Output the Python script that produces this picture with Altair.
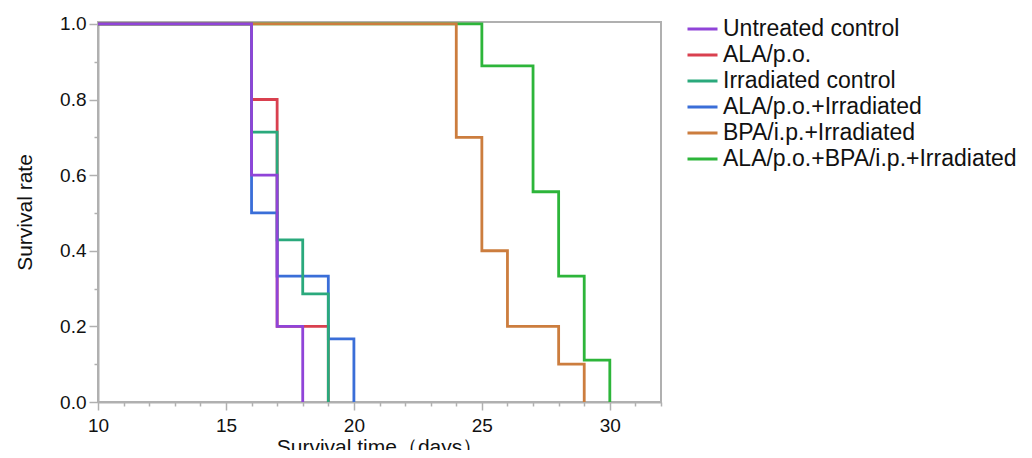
import altair as alt
import pandas as pd

series_names = [
    "Untreated control",
    "ALA/p.o.",
    "Irradiated control",
    "ALA/p.o.+Irradiated",
    "BPA/i.p.+Irradiated",
    "ALA/p.o.+BPA/i.p.+Irradiated",
]
series_colors = ["#9044d8", "#d9404f", "#2aa97c", "#3a6ed8", "#cc7d3e", "#2db53a"]

untreated_t = [10, 16, 17, 18]
untreated_s = [1.0, 0.6, 0.2, 0.0]
ala_t = [10, 16, 17, 19]
ala_s = [1.0, 0.8, 0.2, 0.0]
irr_t = [10, 16, 17, 18, 19]
irr_s = [1.0, 0.714, 0.429, 0.286, 0.0]
alairr_t = [10, 16, 17, 19, 20]
alairr_s = [1.0, 0.5, 0.333, 0.167, 0.0]
bpa_t = [10, 24, 25, 26, 28, 29]
bpa_s = [1.0, 0.7, 0.4, 0.2, 0.1, 0.0]
alabpa_t = [10, 25, 27, 28, 29, 30]
alabpa_s = [1.0, 0.889, 0.556, 0.333, 0.111, 0.0]

x_major = [10, 15, 20, 25, 30]
x_minor = [11, 12, 13, 14, 16, 17, 18, 19, 21, 22, 23, 24, 26, 27, 28, 29, 31, 32]
y_major = [0.0, 0.2, 0.4, 0.6, 0.8, 1.0]
y_minor = [0.1, 0.3, 0.5, 0.7, 0.9]

all_series = {
    "Untreated control": (untreated_t, untreated_s),
    "ALA/p.o.": (ala_t, ala_s),
    "Irradiated control": (irr_t, irr_s),
    "ALA/p.o.+Irradiated": (alairr_t, alairr_s),
    "BPA/i.p.+Irradiated": (bpa_t, bpa_s),
    "ALA/p.o.+BPA/i.p.+Irradiated": (alabpa_t, alabpa_s),
}
# drawing order, bottom to top
draw_order = [
    "ALA/p.o.+BPA/i.p.+Irradiated",
    "ALA/p.o.",
    "ALA/p.o.+Irradiated",
    "Irradiated control",
    "BPA/i.p.+Irradiated",
    "Untreated control",
]

rows = []
for name in draw_order:
    ts, ss = all_series[name]
    for t, s in zip(ts, ss):
        rows.append({"group": name, "time": t, "rate": s})
df = pd.DataFrame(rows)

FONT = "Liberation Sans"
GRAY = "#b0b0b0"

x_scale = alt.Scale(domain=[10, 32], nice=False, zero=False)
y_scale = alt.Scale(domain=[0, 1.005], nice=False, zero=True)
color_scale = alt.Scale(domain=series_names, range=series_colors)

layers = []
for name in draw_order:
    sub = df[df["group"] == name]
    ch = alt.Chart(sub).mark_line(interpolate="step-after", strokeWidth=2.8).encode(
        x=alt.X("time:Q", scale=x_scale,
                axis=alt.Axis(values=x_major, title="Survival time（days）", tickSize=8,
                              labelPadding=6, titlePadding=1, format="d", grid=False,
                              labelFlush=False)),
        y=alt.Y("rate:Q", scale=y_scale,
                axis=alt.Axis(values=y_major, title="Survival rate", tickSize=9,
                              labelPadding=3, titlePadding=24, format=".1f", grid=False,
                              labelFlush=False)),
        color=alt.Color("group:N", scale=color_scale,
                        legend=alt.Legend(title=None, orient="none", legendX=588, legendY=-6,
                                          symbolType="stroke", symbolSize=900,
                                          symbolStrokeWidth=3, labelFontSize=23,
                                          labelFont=FONT, rowPadding=0, padding=0,
                                          clipHeight=26,
                                          labelOffset=4, labelLimit=500)),
    )
    layers.append(ch)

main = alt.layer(*layers)

minor = alt.Chart(df).mark_line(strokeOpacity=0).encode(
    x=alt.X("time:Q", scale=x_scale,
            axis=alt.Axis(values=x_minor, labels=False, title=None, tickSize=4,
                          domain=False, grid=False, orient="bottom")),
    y=alt.Y("rate:Q", scale=y_scale,
            axis=alt.Axis(values=y_minor, labels=False, title=None, tickSize=4,
                          domain=False, grid=False, orient="left")),
)

chart = alt.layer(main, minor).resolve_axis(x="independent", y="independent").properties(
    width=563,
    height=380,
    autosize=alt.AutoSizeParams(type="none"),
    padding={"left": 90, "top": 14, "right": 363, "bottom": 48},
).configure_axis(
    domainColor=GRAY,
    domainWidth=2,
    tickColor=GRAY,
    tickWidth=1.5,
    labelFont=FONT,
    labelFontSize=19,
    labelColor="#111111",
    titleFont=FONT,
    titleFontSize=21,
    titleFontWeight="normal",
    titleColor="#111111",
).configure_view(
    stroke=GRAY,
    strokeWidth=2,
).configure_legend(
    labelColor="#111111",
)

chart.save("out.html", embed_options={"renderer": "svg", "actions": False})
